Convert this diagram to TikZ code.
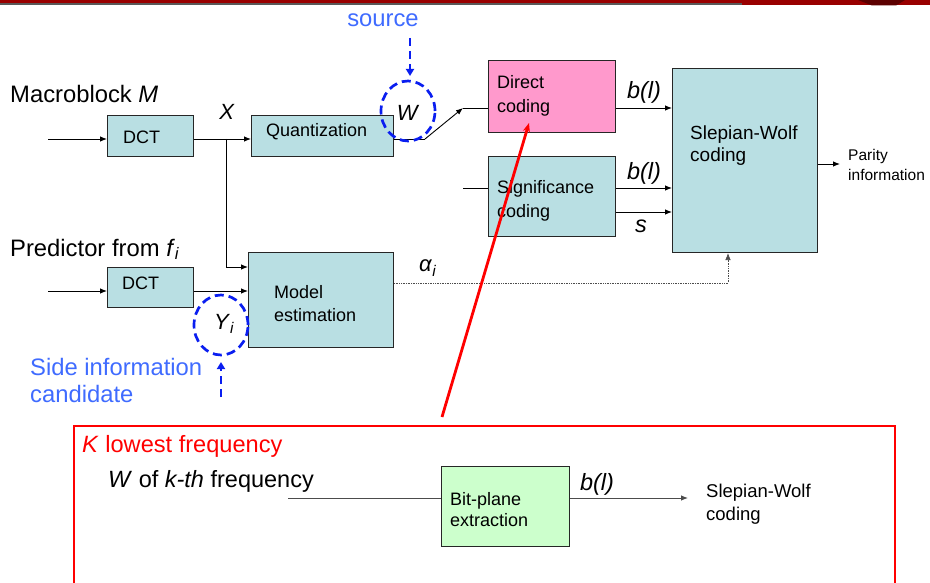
\documentclass[tikz,border=0pt]{standalone}
\usepackage{fontspec}
\setmainfont{Liberation Sans}
\usetikzlibrary{arrows.meta,shapes.geometric}
\definecolor{boxc}{HTML}{B9DFE3}
\definecolor{pinkc}{HTML}{FF99CC}
\definecolor{greenc}{HTML}{CCFFCC}
\definecolor{bluet}{HTML}{3F6BFF}
\definecolor{blued}{HTML}{0A1EF0}
\definecolor{barred}{HTML}{990000}
\definecolor{redc}{HTML}{FF0000}
\begin{document}
\begin{tikzpicture}[x=1pt,y=-1pt,
  blk/.style={draw=black!85, line width=1pt, fill=boxc, inner sep=0, anchor=north west},
  txt/.style={inner sep=0, anchor=west, align=left, font=\fontsize{18}{24}\selectfont},
  lbl/.style={inner sep=0, anchor=base west, font=\fontsize{23.8}{27}\selectfont},
  conn/.style={line width=0.9pt, -{Latex[length=7pt,width=5.5pt]}},
  plain/.style={line width=0.9pt},
  dcirc/.style={draw=blued, line width=2.7pt, dash pattern=on 9pt off 5pt, ellipse, inner sep=0},
  darr/.style={draw=blued, line width=2.7pt, dash pattern=on 8pt off 5pt, -{Triangle[length=7pt,width=8pt]}},
  redl/.style={draw=redc, line width=2.8pt}
]
\useasboundingbox (0,0) rectangle (930,583);
\clip (0,0) rectangle (930,583);
% top bar
\fill[barred] (0,0) rectangle (930,3.5);
\fill[black!65] (0,3.5) rectangle (742,4.8);
\fill[barred] (742,3.5) rectangle (930,5.5);
\fill[barred!60!black] (858,0) -- (905,0) -- (896,5.5) -- (872,5.5) -- cycle;

% boxes
\node[blk, minimum width=86pt, minimum height=41pt] (dct1) at (107,115) {};
\node[blk, minimum width=142pt, minimum height=41pt] (quant) at (251,115) {};
\node[blk, minimum width=86pt, minimum height=40pt] (dct2) at (107,267) {};
\node[blk, minimum width=145pt, minimum height=95pt] (me) at (248,252) {};
\node[blk, fill=pinkc, minimum width=127pt, minimum height=72pt] (direct) at (488,60) {};
\node[blk, minimum width=127pt, minimum height=80pt] (sig) at (488,156) {};
\node[blk, minimum width=145pt, minimum height=184pt] (swc) at (672,68) {};
\node[blk, fill=greenc, minimum width=128pt, minimum height=80pt] (bp) at (441,466) {};

% box texts
\node[txt] (tdct1) at (123,137) {DCT};
\node[txt] (tquant) at (266,132) {Quantization};
\node[txt] (tdct2) at (122,283) {DCT};
\node[txt, font=\fontsize{18}{23}\selectfont] (tme) at (274,303.5) {Model\\estimation};
\node[txt] (tdirect) at (497,96) {Direct\\coding};
\node[txt] (tsig) at (497,201) {Significance\\coding};
\node[txt, font=\fontsize{19}{22}\selectfont] (tswc) at (690,146) {Slepian-Wolf\\coding};
\node[txt, font=\fontsize{18}{21}\selectfont] (tbp) at (450,510) {Bit-plane\\extraction};

% labels
\node[lbl] (lmac) at (10,103) {Macroblock \textit{M}};
\node[lbl] (lpred) at (10,256) {Predictor from \textit{f}\textsubscript{\textit{i}}};
\node[lbl, anchor=base, font=\fontsize{22}{26}\selectfont] (lx) at (227,120) {\textit{X}};
\node[lbl, anchor=base, font=\fontsize{22}{26}\selectfont] (lw) at (408,121) {\textit{W}};
\node[lbl, font=\fontsize{22}{26}\selectfont] (ly) at (214,329) {\textit{Y}\textsubscript{\textit{i}}};
\node[lbl, font=\fontsize{22}{26}\selectfont] (la) at (419,272) {\textit{α}\textsubscript{\textit{i}}};
\node[lbl, anchor=base, font=\fontsize{23.5}{26}\selectfont] (lb1) at (644,99) {\textit{b(l)}};
\node[lbl, anchor=base, font=\fontsize{23.5}{26}\selectfont] (lb2) at (644,180) {\textit{b(l)}};
\node[lbl, anchor=base, font=\fontsize{23.5}{26}\selectfont] (ls) at (641,233) {\textit{s}};
\node[txt, font=\fontsize{15.5}{20}\selectfont] (lpar) at (848,165) {Parity\\information};
\node[lbl, anchor=base, text=bluet] (lsrc) at (383,27) {source};
\node[txt, font=\fontsize{23.8}{27}\selectfont, text=bluet] (lside) at (30,380.5) {Side information\\candidate};
\node[lbl, text=redc, font=\fontsize{23.6}{26}\selectfont] (lk) at (82,452) {\textit{K} lowest frequency};
\node[lbl, font=\fontsize{23.5}{26}\selectfont] (lwk) at (108,487) {\textit{W} of \textit{k-th} frequency};
\node[lbl, anchor=base, font=\fontsize{23.5}{26}\selectfont] (lb3) at (597,490) {\textit{b(l)}};
\node[txt, font=\fontsize{18.5}{23}\selectfont] (lsw2) at (706,504.5) {Slepian-Wolf\\coding};

% coordinates
\coordinate (in1) at (48,139);
\coordinate (x1) at (226,139);
\coordinate (mein) at (248,267);
\coordinate (in2) at (48,291);
\coordinate (sw0) at (425,139);
\coordinate (sw1) at (463,108);
\coordinate (sg0) at (463,188);
\coordinate (sg1) at (463,212);
\coordinate (par) at (840,164);
\coordinate (al) at (728,283);
\coordinate (w0) at (288,498);
\coordinate (wout) at (688,498);
\coordinate (r0) at (442,417);
\coordinate (r1) at (529,123);
\coordinate (src0) at (410,38);
\coordinate (src1) at (410,76);
\coordinate (yi0) at (221,397);
\coordinate (yi1) at (221,362);

% connectors
\draw[conn] (in1) -- (in1 -| dct1.west);
\draw[plain] (in1 -| dct1.east) -- (x1);
\draw[conn] (x1) -- (x1 -| quant.west);
\draw[conn] (x1) |- (mein);
\draw[conn] (in2) -- (in2 -| dct2.west);
\draw[conn] (in2 -| dct2.east) -- (in2 -| me.west);
\draw[plain] (sw0 -| quant.east) -- (sw0);
\draw[conn] (sw0) -- (sw1);
\draw[plain] (sw1) -- (sw1 -| direct.west);
\draw[plain] (sg0) -- (sg0 -| sig.west);
\draw[conn] (sw1 -| direct.east) -- (sw1 -| swc.west);
\draw[conn] (sg0 -| sig.east) -- (sg0 -| swc.west);
\draw[conn] (sg1 -| sig.east) -- (sg1 -| swc.west);
\draw[conn] (par -| swc.east) -- (par);
\draw[line width=0.7pt, densely dotted, black!70, -{Latex[length=7pt,width=5.5pt]}] (al -| me.east) -- (al) -- (al |- swc.south);
\draw[plain, black!70] (w0) -- (w0 -| bp.west);
\draw[conn, black!70] (w0 -| bp.east) -- (wout);

% dashed circles
\node[dcirc, minimum width=54pt, minimum height=60pt] (wc) at (408,111) {};
\node[dcirc, minimum width=54pt, minimum height=60pt] (yc) at (221,325) {};
\draw[darr] (src0) -- (src1);
\draw[darr] (yi0) -- (yi1);

% red
\draw[redl] (74,600) -- (74,426) -- (895,426) -- (895,600);
\draw[redl, -{Stealth[length=9pt,width=7pt]}] (r0) -- (r1);
\end{tikzpicture}
\end{document}
